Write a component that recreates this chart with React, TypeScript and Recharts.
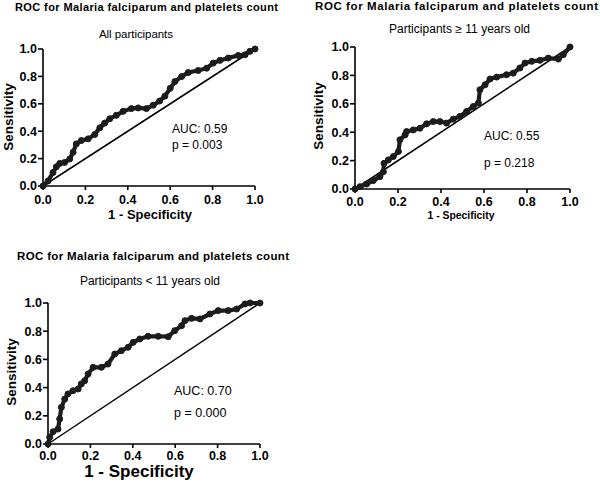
import React from 'react';
import { ComposedChart, Line, XAxis, YAxis, ReferenceLine } from 'recharts';

// ROC points: fpr = 1 - specificity, tpr = sensitivity
const allFpr = [0, 0.024, 0.047, 0.063, 0.079, 0.102, 0.126, 0.142, 0.157, 0.181, 0.213, 0.244, 0.268, 0.291, 0.315, 0.346, 0.378, 0.417, 0.449, 0.488, 0.52, 0.55, 0.575, 0.6, 0.622, 0.654, 0.685, 0.732, 0.772, 0.803, 0.835, 0.874, 0.921, 0.953, 0.976, 1];
const allTpr = [0, 0.037, 0.098, 0.14, 0.165, 0.172, 0.197, 0.246, 0.307, 0.332, 0.344, 0.376, 0.425, 0.459, 0.491, 0.516, 0.545, 0.565, 0.57, 0.565, 0.59, 0.62, 0.656, 0.713, 0.762, 0.799, 0.828, 0.843, 0.86, 0.897, 0.917, 0.934, 0.953, 0.958, 0.983, 1];

const olderFpr = [0, 0.023, 0.054, 0.085, 0.116, 0.132, 0.135, 0.155, 0.178, 0.202, 0.209, 0.233, 0.24, 0.271, 0.302, 0.333, 0.364, 0.395, 0.426, 0.457, 0.488, 0.519, 0.55, 0.574, 0.581, 0.605, 0.628, 0.659, 0.705, 0.736, 0.767, 0.791, 0.822, 0.86, 0.899, 0.946, 0.969, 1];
const olderTpr = [0, 0.016, 0.035, 0.059, 0.087, 0.122, 0.181, 0.205, 0.228, 0.264, 0.346, 0.381, 0.405, 0.416, 0.428, 0.459, 0.475, 0.475, 0.464, 0.492, 0.511, 0.546, 0.581, 0.605, 0.699, 0.734, 0.774, 0.788, 0.805, 0.816, 0.852, 0.887, 0.899, 0.906, 0.922, 0.915, 0.946, 1];

const youngerFpr = [0, 0.008, 0.024, 0.047, 0.055, 0.063, 0.079, 0.094, 0.118, 0.142, 0.157, 0.173, 0.189, 0.213, 0.252, 0.283, 0.315, 0.346, 0.378, 0.402, 0.433, 0.472, 0.52, 0.567, 0.598, 0.63, 0.646, 0.677, 0.717, 0.764, 0.803, 0.85, 0.89, 0.929, 0.953, 1];
const youngerTpr = [0, 0.047, 0.087, 0.106, 0.177, 0.26, 0.319, 0.355, 0.378, 0.39, 0.426, 0.449, 0.496, 0.544, 0.544, 0.567, 0.638, 0.662, 0.686, 0.721, 0.745, 0.764, 0.764, 0.761, 0.804, 0.839, 0.875, 0.891, 0.887, 0.922, 0.946, 0.946, 0.957, 0.993, 1, 1];

const ticks = [0, 0.2, 0.4, 0.6, 0.8, 1];

const FONT = '"Liberation Sans", Arial, sans-serif';

const toRows = (fpr: number[], tpr: number[]) => fpr.map((x, i) => ({ x, y: tpr[i] }));

const tickStyle = { fontSize: 12.5, fontWeight: 700, fill: '#000', fontFamily: FONT };
const axisLine = { stroke: '#000', strokeWidth: 1.6 };

interface PanelProps {
  rows: { x: number; y: number }[];
  left: number;
  top: number;
  width: number;
  height: number;
  margin: { top: number; right: number; bottom: number; left: number };
  yAxisWidth: number;
  xTickMargin: number;
}

const RocPanel: React.FC<PanelProps> = ({ rows, left, top, width, height, margin, yAxisWidth, xTickMargin }) => (
  <div style={{ position: 'absolute', left, top, width, height }}>
    <ComposedChart width={width} height={height} data={rows} margin={margin}>
      <XAxis
        type="number"
        dataKey="x"
        domain={[0, 1]}
        ticks={ticks}
        tickFormatter={v => v.toFixed(1)}
        tick={tickStyle}
        axisLine={axisLine}
        tickLine={axisLine}
        tickSize={4}
        tickMargin={xTickMargin}
        height={30}
      />
      <YAxis
        type="number"
        domain={[0, 1]}
        ticks={ticks}
        tickFormatter={v => v.toFixed(1)}
        tick={tickStyle}
        axisLine={axisLine}
        tickLine={axisLine}
        tickSize={5}
        tickMargin={1}
        width={yAxisWidth}
      />
      <ReferenceLine segment={[{ x: 0, y: 0 }, { x: 1, y: 1 }]} stroke="#000" strokeWidth={1.5} />
      <Line
        type="linear"
        dataKey="y"
        stroke="#1c1c1c"
        strokeWidth={4.2}
        dot={{ r: 3, fill: '#1c1c1c', stroke: '#1c1c1c', strokeWidth: 1 }}
        isAnimationActive={false}
      />
    </ComposedChart>
  </div>
);

const title = 'ROC for Malaria falciparum and platelets count';

export default function App() {
  return (
    <div style={{ position: 'relative', width: 600, height: 483, background: '#fff', fontFamily: FONT }}>
      <style>{`body{margin:0}`}</style>
      <RocPanel
        rows={toRows(allFpr, allTpr)}
        left={0}
        top={0}
        width={300}
        height={240}
        margin={{ top: 49, right: 45, bottom: 24, left: 0 }}
        yAxisWidth={43}
        xTickMargin={5}
      />
      <RocPanel
        rows={toRows(olderFpr, olderTpr)}
        left={300}
        top={0}
        width={300}
        height={240}
        margin={{ top: 47, right: 30, bottom: 21, left: 0 }}
        yAxisWidth={55}
        xTickMargin={4}
      />
      <RocPanel
        rows={toRows(youngerFpr, youngerTpr)}
        left={0}
        top={240}
        width={300}
        height={243}
        margin={{ top: 63, right: 40, bottom: 9, left: 0 }}
        yAxisWidth={48}
        xTickMargin={3}
      />
      <svg width={600} height={483} style={{ position: 'absolute', left: 0, top: 0, pointerEvents: 'none' }} fontFamily={FONT} fill="#000">
        {/* panel 1 */}
        <text x={15} y={11} fontSize={11} fontWeight={700} textLength={263} lengthAdjust="spacing">{title}</text>
        <text x={99} y={38} fontSize={11.5} textLength={74} lengthAdjust="spacing">All participants</text>
        <text x={172} y={133} fontSize={12}>AUC: 0.59</text>
        <text x={172} y={149} fontSize={12}>p = 0.003</text>
        <text transform="translate(13,117) rotate(-90)" textAnchor="middle" fontSize={13.5} fontWeight={700}>Sensitivity</text>
        <text x={150} y={219} textAnchor="middle" fontSize={13} fontWeight={700}>1 - Specificity</text>
        {/* panel 2 */}
        <text x={315} y={10} fontSize={11.5} fontWeight={700} textLength={283} lengthAdjust="spacing">{title}</text>
        <text x={389} y={33} fontSize={12} textLength={141} lengthAdjust="spacing">Participants ≥ 11 years old</text>
        <text x={484} y={140} fontSize={12}>AUC: 0.55</text>
        <text x={484} y={167} fontSize={12}>p = 0.218</text>
        <text transform="translate(323,116) rotate(-90)" textAnchor="middle" fontSize={13.5} fontWeight={700}>Sensitivity</text>
        <text x={461} y={219} textAnchor="middle" fontSize={10.4} fontWeight={700}>1 - Specificity</text>
        {/* panel 3 */}
        <text x={17} y={260} fontSize={11.5} fontWeight={700} textLength={272} lengthAdjust="spacing">{title}</text>
        <text x={80} y={285} fontSize={12} textLength={140} lengthAdjust="spacing">Participants &lt; 11 years old</text>
        <text x={174} y={395} fontSize={12.5}>AUC: 0.70</text>
        <text x={174} y={417} fontSize={12.5}>p = 0.000</text>
        <text transform="translate(16,372) rotate(-90)" textAnchor="middle" fontSize={13.5} fontWeight={700}>Sensitivity</text>
        <text x={139} y={477} textAnchor="middle" fontSize={17} fontWeight={700}>1 - Specificity</text>
      </svg>
    </div>
  );
}
